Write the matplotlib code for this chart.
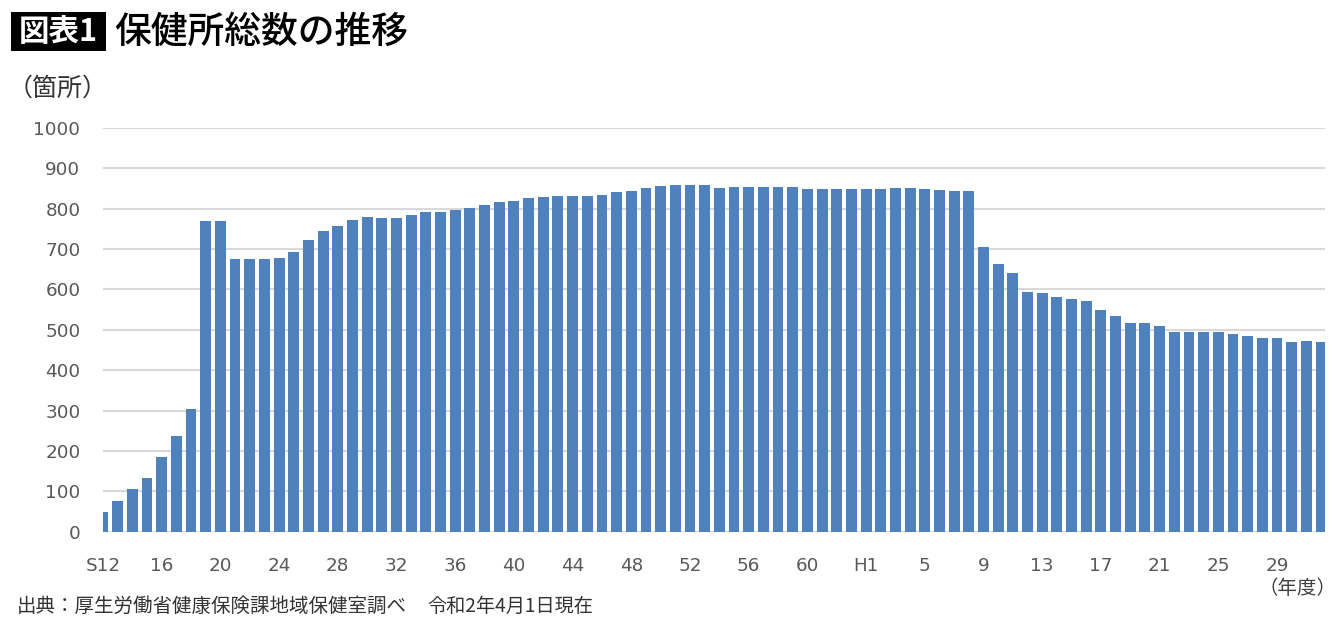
import matplotlib
matplotlib.use("Agg")
import matplotlib.pyplot as plt
from matplotlib.patches import Rectangle

plt.rcParams['font.family'] = ['Noto Sans CJK JP', 'DejaVu Sans']

# ---- data ----
showa = ["S%d" % y for y in range(12, 64)]           # S12..S63
heisei = ["H%d" % y for y in range(1, 32)]           # H1..H31
reiwa = ["R2"]
categories = showa + heisei + reiwa

values = [
    49, 77, 106, 133, 186, 238, 305,          # S12-S18
    770, 770,                                 # S19-S20
    675, 675, 675,                            # S21-S23
    679, 692, 722, 746, 757, 771, 780,        # S24-S30
    777, 777, 784, 791, 793, 796, 802,        # S31-S37
    810, 817, 820, 826, 828, 831, 831,        # S38-S44
    831, 835, 841, 845, 852, 856, 859,        # S45-S51
    859, 858, 852, 854, 854, 855, 855,        # S52-S58
    855, 849, 849, 850, 849,                  # S59-S63
    848, 850, 851, 852, 848, 847, 845, 845,   # H1-H8
    706, 663, 641, 594, 592, 582, 576, 571,   # H9-H16
    549, 535, 518, 517, 510, 494, 495, 495,   # H17-H24
    494, 490, 486, 480, 481, 469, 472,        # H25-H31
    469,                                      # R2
]

tick_labels = ["S12", "16", "20", "24", "28", "32", "36", "40", "44", "48",
               "52", "56", "60", "H1", "5", "9", "13", "17", "21", "25", "29"]
y_ticks = [0, 100, 200, 300, 400, 500, 600, 700, 800, 900, 1000]

title = "保健所総数の推移"
badge = "図表1"
y_unit = "（箇所）"
x_unit = "（年度）"
source = "出典：厚生労働省健康保険課地域保健室調べ"
source_date = "令和2年4月1日現在"

# ---- figure ----
W, H = 1340, 624
fig = plt.figure(figsize=(W / 100, H / 100), dpi=100)
ax = fig.add_axes([102.7 / W, 1 - 531.7 / H, (1324.7 - 102.7) / W, (531.7 - 128) / H])

x = list(range(len(categories)))
ax.bar(x, values, width=0.74, color="#4f81bd", zorder=3)

ax.set_xlim(-0.02, len(categories) - 1 + 0.25)
ax.set_ylim(0, 1000)
ax.set_yticks(y_ticks)
ax.set_yticklabels([str(v) for v in y_ticks])
ax.set_xticks(x[::4])
ax.set_xticklabels(tick_labels)
for lab in ax.get_xticklabels() + ax.get_yticklabels():
    lab.set_fontfamily(['DejaVu Sans'])

ax.grid(axis="y", color="#d9d9d9", linewidth=1.5, zorder=0)
ax.set_axisbelow(True)
for s in ax.spines.values():
    s.set_visible(False)
ax.tick_params(axis="both", length=0, labelsize=13.2, labelcolor="#595959")
ax.tick_params(axis="y", pad=16)
ax.tick_params(axis="x", pad=18.5)

# title badge
fig.patches.append(Rectangle((10.7 / W, 1 - 51 / H), 95.3 / W, 39.3 / H,
                             transform=fig.transFigure, facecolor="black",
                             edgecolor="none"))
fig.text(58 / W, 1 - 31.5 / H, badge, ha="center", va="center",
         color="white", fontsize=22, fontweight="bold")
fig.text(114 / W, 1 - 32 / H, title, ha="left", va="center",
         color="black", fontsize=26.5, fontweight="medium")

fig.text(8 / W, 1 - 89 / H, y_unit, ha="left", va="center",
         color="#333333", fontsize=18)
fig.text(1336 / W, 1 - 589 / H, x_unit, ha="right", va="center",
         color="#404040", fontsize=14)
fig.text(17 / W, 1 - 606 / H, source, ha="left", va="center",
         color="#333333", fontsize=14)
fig.text(427 / W, 1 - 606 / H, source_date, ha="left", va="center",
         color="#333333", fontsize=13.8)

fig.savefig("out.png", dpi=100)
